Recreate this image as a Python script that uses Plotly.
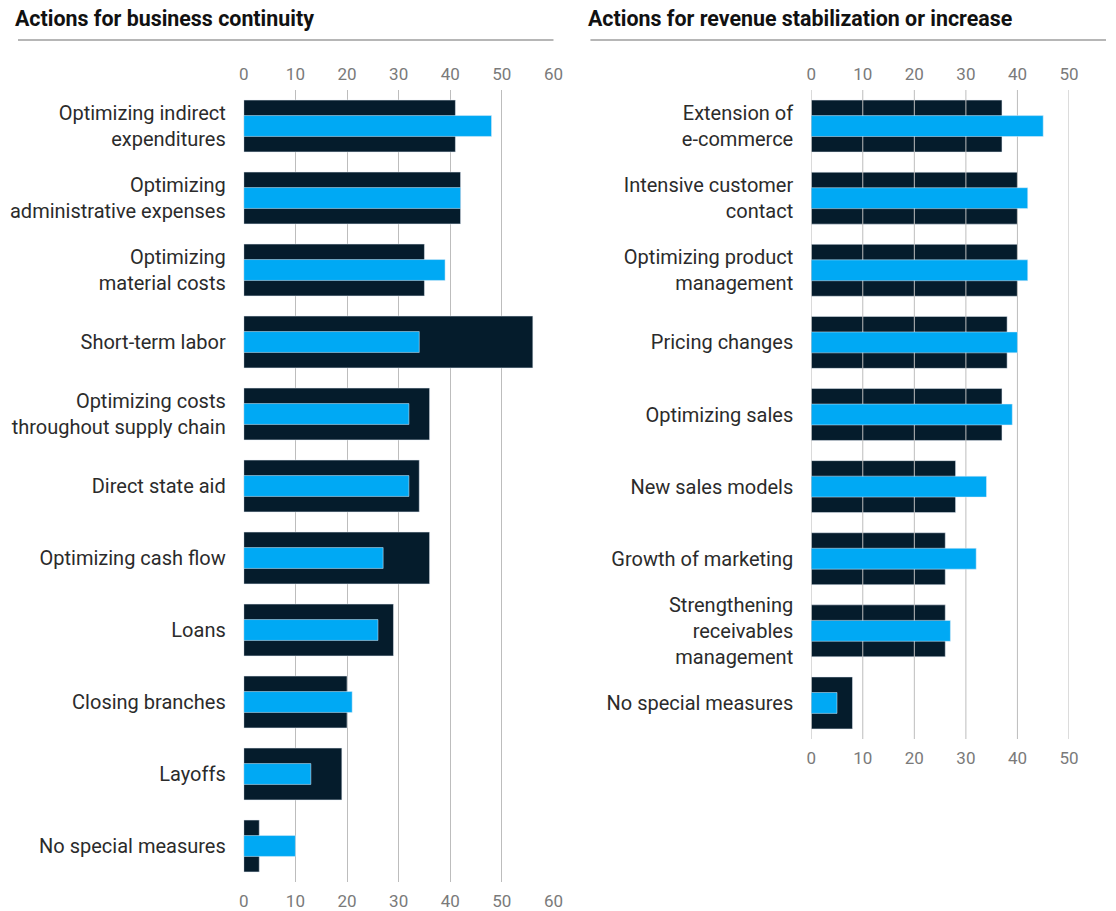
import plotly.graph_objects as go

# ---------------- data ----------------
left_categories = [
    "Optimizing indirect<br>expenditures",
    "Optimizing<br>administrative expenses",
    "Optimizing<br>material costs",
    "Short-term labor",
    "Optimizing costs<br>throughout supply chain",
    "Direct state aid",
    "Optimizing cash flow",
    "Loans",
    "Closing branches",
    "Layoffs",
    "No special measures",
]
left_dark = [41, 42, 35, 56, 36, 34, 36, 29, 20, 19, 3]
left_blue = [48, 42, 39, 34, 32, 32, 27, 26, 21, 13, 10]

right_categories = [
    "Extension of<br>e-commerce",
    "Intensive customer<br>contact",
    "Optimizing product<br>management",
    "Pricing changes",
    "Optimizing sales",
    "New sales models",
    "Growth of marketing",
    "Strengthening<br>receivables<br>management",
    "No special measures",
]
right_dark = [37, 40, 40, 38, 37, 28, 26, 26, 8]
right_blue = [45, 42, 42, 40, 39, 34, 32, 27, 5]

left_ticks = [0, 10, 20, 30, 40, 50, 60]
right_ticks = [0, 10, 20, 30, 40, 50]

titles = ["Actions for business continuity", "Actions for revenue stabilization or increase"]

# ---------------- style ----------------
W, H = 1116, 911
DARK = "#051c2c"
BLUE = "#00a9f4"
GRID = "#bdbdbd"
TICKC = "#7a7a7a"
LABELC = "#2b2b2b"
FONT = "Roboto, Arial, sans-serif"

def fx(px):
    # horizontal position (pixels in the target picture) -> paper fraction
    return min(max(((px - 4) / 0.9875) / W, 0), 1)

def fy(py):
    return 1 - py / H

L_dom = [fx(243), fx(553)]
R_dom = [fx(811), fx(1069)]
L_ydom = [fy(882), fy(90)]
R_ydom = [fy(739), fy(90)]

fig = go.Figure()

fig.add_trace(go.Bar(y=left_categories, x=left_dark, orientation="h", marker_color=DARK,
                     width=0.72, xaxis="x", yaxis="y", showlegend=False, hoverinfo="x+y"))
fig.add_trace(go.Bar(y=left_categories, x=left_blue, orientation="h", marker_color=BLUE,
                     width=0.29, xaxis="x2", yaxis="y", showlegend=False, hoverinfo="x+y"))

fig.add_trace(go.Bar(y=right_categories, x=right_dark, orientation="h", marker_color=DARK,
                     width=0.72, xaxis="x3", yaxis="y3", showlegend=False, hoverinfo="x+y"))
gx, gy = [], []
for t in right_ticks:
    gx += [t, t, None]
    gy += [-0.5, len(right_categories) - 0.5, None]
fig.add_trace(go.Scatter(x=gx, y=gy, mode="lines", line=dict(color=GRID, width=1),
                         xaxis="x3", yaxis="y5", showlegend=False, hoverinfo="skip"))
fig.add_trace(go.Bar(y=right_categories, x=right_blue, orientation="h", marker_color=BLUE,
                     width=0.29, xaxis="x4", yaxis="y3", showlegend=False, hoverinfo="x+y"))

tickfont = dict(family=FONT, size=17, color=TICKC)
labelfont = dict(family=FONT, size=20, color=LABELC)

common_x = dict(showline=False, zeroline=False, ticks="", tickfont=tickfont, fixedrange=True)

fig.update_layout(
    width=W, height=H,
    margin=dict(l=0, r=0, t=0, b=0),
    paper_bgcolor="white", plot_bgcolor="rgba(0,0,0,0)",
    barmode="overlay",
    font=dict(family=FONT),
    xaxis=dict(domain=L_dom, range=[0, 60], tickvals=left_ticks, side="bottom", anchor="y",
               showgrid=True, gridcolor=GRID, gridwidth=1, ticklabelstandoff=7, **common_x),
    xaxis2=dict(range=[0, 60], tickvals=left_ticks, side="top", overlaying="x", anchor="y",
                showgrid=False, ticklabelstandoff=6, **common_x),
    yaxis=dict(domain=L_ydom, autorange="reversed", anchor="x",
               tickfont=labelfont, ticks="", showline=False, zeroline=False, showgrid=False,
               ticklabelstandoff=17, fixedrange=True),
    xaxis3=dict(domain=R_dom, range=[0, 50], tickvals=right_ticks, side="bottom", anchor="y3",
                showgrid=False, ticklabelstandoff=7, **common_x),
    xaxis4=dict(range=[0, 50], tickvals=right_ticks, side="top", overlaying="x3", anchor="y3",
                showgrid=False, ticklabelstandoff=6, **common_x),
    yaxis3=dict(domain=R_ydom, autorange="reversed", anchor="x3",
                tickfont=labelfont, ticks="", showline=False, zeroline=False, showgrid=False,
                ticklabelstandoff=17, fixedrange=True),
    yaxis5=dict(overlaying="y3", range=[len(right_categories) - 0.5, -0.5], anchor="x3",
                visible=False, fixedrange=True),
)

fig.add_annotation(text="<b>" + titles[0] + "</b>", x=fx(12), y=fy(18), xref="paper", yref="paper",
                   xanchor="left", yanchor="middle", showarrow=False,
                   font=dict(family=FONT, size=21.4, color="#111111"))
fig.add_annotation(text="<b>" + titles[1] + "</b>", x=fx(586), y=fy(18), xref="paper", yref="paper",
                   xanchor="left", yanchor="middle", showarrow=False,
                   font=dict(family=FONT, size=21.4, color="#111111"))
fig.add_shape(type="line", xref="paper", yref="paper", x0=fx(17), x1=fx(553), y0=fy(40), y1=fy(40),
              line=dict(color="#9e9e9e", width=1.5))
fig.add_shape(type="line", xref="paper", yref="paper", x0=fx(590), x1=fx(1110), y0=fy(40), y1=fy(40),
              line=dict(color="#9e9e9e", width=1.5))

fig.write_html("out.html")
